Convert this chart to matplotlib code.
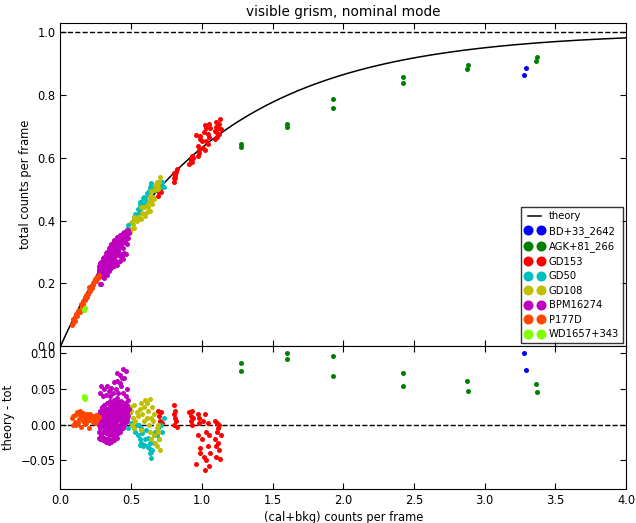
import numpy as np
import matplotlib
matplotlib.use('Agg')
import matplotlib.pyplot as plt

plt.rcParams['font.family'] = ['DejaVu Sans']
plt.rcParams['xtick.direction'] = 'in'
plt.rcParams['ytick.direction'] = 'in'
plt.rcParams['xtick.top'] = True
plt.rcParams['ytick.right'] = True
plt.rcParams['xtick.major.size'] = 4
plt.rcParams['ytick.major.size'] = 4

# star names and colours (legend order)
stars = ['BD+33_2642', 'AGK+81_266', 'GD153', 'GD50', 'GD108',
         'BPM16274', 'P177D', 'WD1657+343']
colors = ['#0000ff', '#008000', '#ff0000', '#00bfbf', '#bfbf00',
          '#bf00bf', '#ff4500', '#7fff00']

# (cal+bkg) counts per frame, and residual theory - tot
bd_x = [3.278, 3.292]
bd_r = [0.100, 0.077]

agk_x = [1.274, 1.276, 1.600, 1.602, 1.925, 1.928, 2.420, 2.425, 2.875, 2.880, 3.363, 3.372]
agk_r = [0.086, 0.076, 0.101, 0.092, 0.097, 0.069, 0.072, 0.055, 0.061, 0.047, 0.057, 0.046]

gd153_x = [0.45, 0.47, 0.49, 0.69, 0.70, 0.703, 0.71, 0.72, 0.80, 0.802, 0.81, 0.812,
           0.82, 0.823, 0.805, 0.91, 0.92, 0.922, 0.93, 0.932, 0.94, 0.97, 0.98, 0.982,
           0.972, 0.985, 0.99, 0.96, 1.00, 1.01, 1.012, 1.02, 1.022, 1.03, 1.032, 1.04,
           1.042, 1.05, 1.052, 1.06, 1.09, 1.092, 1.10, 1.102, 1.11, 1.112, 1.12, 1.122,
           1.13, 1.132, 1.115, 1.105]
gd153_r = [0.010, 0.005, 0.018, 0.020, 0.012, 0.005, 0.018, 0.002, 0.028, 0.015, 0.020, 0.010,
           0.005, -0.003, 0.000, 0.018, 0.012, 0.005, 0.020, 0.000, 0.010, 0.015, 0.010, 0.002,
           -0.015, -0.033, -0.040, -0.055, -0.020, 0.005, -0.045, -0.064, 0.015, -0.010, -0.050, 0.003,
           -0.030, -0.058, -0.015, -0.040, 0.005, -0.020, -0.030, -0.045, -0.010, -0.025, -0.035, 0.000,
           -0.048, -0.015, -0.005, 0.002]

gd50_x = [0.44, 0.46, 0.47, 0.48, 0.50, 0.52, 0.53, 0.54, 0.55, 0.56, 0.57, 0.58,
          0.59, 0.60, 0.61, 0.62, 0.63, 0.64, 0.65, 0.66, 0.67, 0.68, 0.69, 0.70,
          0.71, 0.72, 0.73, 0.553, 0.573, 0.603, 0.623, 0.643, 0.663, 0.583, 0.563, 0.633]
gd50_r = [0.010, 0.018, 0.005, -0.005, 0.002, -0.005, -0.010, 0.000, -0.015, -0.020, -0.025, -0.012,
          -0.028, -0.020, -0.030, -0.018, -0.040, -0.046, -0.035, -0.025, -0.010, -0.015, -0.005, -0.020,
          0.000, -0.010, 0.010, 0.000, -0.005, -0.008, -0.032, -0.038, -0.015, -0.030, -0.028, -0.025]

gd108_x = [0.48, 0.49, 0.50, 0.51, 0.52, 0.53, 0.54, 0.55, 0.503, 0.523, 0.56, 0.57,
           0.58, 0.59, 0.60, 0.61, 0.62, 0.63, 0.64, 0.65, 0.623, 0.633, 0.643, 0.653,
           0.66, 0.67, 0.68, 0.69, 0.70, 0.693, 0.683, 0.703, 0.663, 0.613, 0.593, 0.573]
gd108_r = [0.015, 0.025, 0.020, 0.010, 0.028, 0.005, 0.018, 0.012, 0.000, -0.005, 0.022, 0.030,
           0.015, 0.025, 0.035, 0.030, 0.020, 0.036, 0.010, 0.025, 0.000, -0.010, -0.020, 0.005,
           -0.015, -0.025, -0.030, -0.010, -0.020, 0.000, -0.005, -0.035, 0.015, 0.010, 0.005, -0.008]

bpm_x = [0.270, 0.272, 0.268, 0.275, 0.271,
         0.280, 0.283, 0.278, 0.285, 0.281,
         0.290, 0.293, 0.288, 0.295, 0.291,
         0.300, 0.303, 0.298, 0.305, 0.301, 0.297,
         0.310, 0.313, 0.308, 0.315, 0.311, 0.307,
         0.320, 0.323, 0.318, 0.325, 0.321, 0.317,
         0.330, 0.333, 0.328, 0.335, 0.331, 0.327,
         0.340, 0.343, 0.338, 0.345, 0.341, 0.337,
         0.350, 0.353, 0.348, 0.355, 0.351, 0.347, 0.352,
         0.360, 0.363, 0.358, 0.365, 0.361, 0.357, 0.362,
         0.370, 0.373, 0.368, 0.375, 0.371, 0.367,
         0.380, 0.383, 0.378, 0.385, 0.381, 0.377, 0.382,
         0.390, 0.393, 0.388, 0.395, 0.391, 0.387,
         0.400, 0.403, 0.398, 0.405, 0.401, 0.397, 0.402,
         0.410, 0.413, 0.408, 0.415, 0.411, 0.407,
         0.420, 0.423, 0.418, 0.425, 0.421,
         0.430, 0.433, 0.428, 0.435, 0.431,
         0.440, 0.443, 0.438, 0.445,
         0.450, 0.453, 0.448, 0.455,
         0.460, 0.463, 0.458,
         0.470, 0.473, 0.468,
         0.480, 0.483,
         0.28, 0.29, 0.30, 0.31, 0.32, 0.33, 0.34, 0.35, 0.36, 0.37, 0.38, 0.39, 0.40,
         0.41, 0.42, 0.43, 0.44, 0.45, 0.46, 0.47, 0.402, 0.422, 0.442, 0.462, 0.48, 0.432]
bpm_r = [-0.010, 0.000, 0.008, 0.015, -0.018,
         -0.020, -0.005, 0.005, 0.012, 0.020,
         -0.015, -0.002, 0.010, 0.018, 0.025,
         -0.022, -0.010, 0.000, 0.008, 0.015, 0.022,
         -0.018, -0.006, 0.004, 0.012, 0.020, 0.028,
         -0.024, -0.012, -0.002, 0.006, 0.016, 0.024,
         -0.020, -0.008, 0.002, 0.010, 0.018, 0.030,
         -0.025, -0.014, -0.004, 0.006, 0.014, 0.022,
         -0.022, -0.010, 0.000, 0.008, 0.017, 0.026, 0.034,
         -0.024, -0.015, -0.005, 0.004, 0.012, 0.021, 0.030,
         -0.020, -0.008, 0.002, 0.010, 0.019, 0.028,
         -0.022, -0.012, -0.002, 0.006, 0.015, 0.024, 0.035,
         -0.016, -0.006, 0.003, 0.012, 0.020, 0.030,
         -0.018, -0.008, 0.000, 0.009, 0.018, 0.026, 0.038,
         -0.012, -0.002, 0.006, 0.015, 0.024, 0.032,
         -0.010, 0.000, 0.010, 0.020, 0.028,
         -0.006, 0.004, 0.014, 0.024, 0.034,
         -0.004, 0.006, 0.016, 0.026,
         0.000, 0.010, 0.020, 0.030,
         0.004, 0.014, 0.024,
         0.008, 0.018, 0.028,
         0.012, 0.022,
         0.045, 0.055, 0.040, 0.050, 0.042, 0.055, 0.048, 0.040, 0.052, 0.045, 0.060, 0.050, 0.062,
         0.045, 0.070, 0.055, 0.078, 0.065, 0.075, 0.050, 0.072, 0.058, 0.045, 0.040, 0.035, 0.065]

p177_x = [0.08, 0.09, 0.10, 0.11, 0.12, 0.13, 0.14, 0.15, 0.16, 0.17, 0.18, 0.19,
          0.20, 0.21, 0.22, 0.23, 0.24, 0.25, 0.26, 0.27, 0.102, 0.122, 0.142, 0.162,
          0.182, 0.202, 0.222, 0.242, 0.262, 0.132, 0.172, 0.212, 0.252, 0.092, 0.192, 0.232]
p177_r = [0.010, 0.012, 0.014, 0.000, 0.018, 0.008, 0.020, 0.012, 0.005, 0.010, 0.003, 0.015,
          0.010, 0.006, 0.012, 0.004, 0.009, 0.014, 0.007, 0.011, 0.004, 0.002, -0.003, 0.016,
          0.012, -0.005, 0.008, 0.002, 0.013, 0.015, 0.001, 0.015, 0.005, 0.000, 0.007, 0.013]

wd_x = [0.165, 0.170, 0.175, 0.168]
wd_r = [0.038, 0.036, 0.039, 0.040]

series = [(bd_x, bd_r), (agk_x, agk_r), (gd153_x, gd153_r), (gd50_x, gd50_r),
          (gd108_x, gd108_r), (bpm_x, bpm_r), (p177_x, p177_r), (wd_x, wd_r)]


def theory(x):
    return 1. - np.exp(-np.asarray(x))


fig = plt.figure(figsize=(6.36, 5.23), dpi=100)
fig.patch.set_facecolor('white')
ax = fig.add_axes([0.0951, 0.3379, 0.8892, 0.6187])
ax2 = fig.add_axes([0.0951, 0.065, 0.8892, 0.2729])

xx = np.linspace(0, 4, 400)
ax.plot(xx, theory(xx), color='k', lw=1.1, label='theory')
ax.axhline(1.0, color='k', ls='--', lw=1)
ax2.axhline(0.0, color='k', ls='--', lw=1)

for name, c, (sx, sr) in zip(stars, colors, series):
    sx = np.array(sx)
    sr = np.array(sr)
    tot = theory(sx) - sr
    ax.plot(sx, tot, 'o', color=c, ms=3.6, mew=0, label=name)
    ax2.plot(sx, sr, 'o', color=c, ms=3.6, mew=0)

fs = 8.3
ax.set_xlim(0, 4)
ax.set_ylim(0, 1.03)
ax.set_xticks(np.arange(0, 4.01, 0.5))
ax.set_xticklabels([])
ax.set_yticks(np.arange(0, 1.01, 0.2))
ax.set_title('visible grism, nominal mode', fontsize=9.8, pad=5)
ax.set_ylabel('total counts per frame', fontsize=fs)
ax.tick_params(labelsize=fs)

ax2.set_xlim(0, 4)
ax2.set_ylim(-0.09, 0.11)
ax2.set_xticks(np.arange(0, 4.01, 0.5))
ax2.set_yticks([-0.05, 0.0, 0.05, 0.10])
ax2.set_xlabel('(cal+bkg) counts per frame', fontsize=fs, labelpad=3)
ax2.set_ylabel('theory - tot', fontsize=fs)
ax2.tick_params(labelsize=fs)

leg = ax.legend(loc='lower right', fontsize=7.2, numpoints=2, markerscale=2.0,
                handlelength=1.9, borderaxespad=0.3, fancybox=False,
                labelspacing=0.45, handletextpad=0.5, borderpad=0.4)
leg.get_frame().set_edgecolor('k')

fig.savefig('out.png', dpi=100, facecolor='white')
